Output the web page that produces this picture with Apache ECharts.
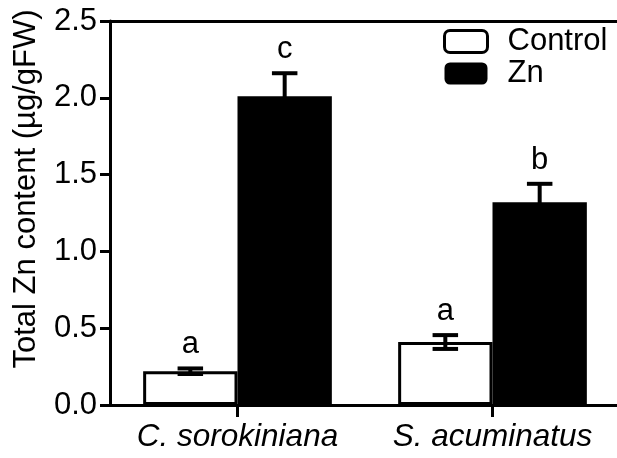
<!DOCTYPE html>
<html>
<head>
<meta charset="utf-8">
<script src="https://cdn.jsdelivr.net/npm/echarts@6/dist/echarts.min.js"></script>
<style>
html,body{margin:0;padding:0;background:#fff;}
#chart{width:617px;height:458px;}
</style>
</head>
<body>
<div id="chart"></div>
<script>
const categories = ['C. sorokiniana', 'S. acuminatus'];
const seriesNames = ['Control', 'Zn'];
const controlMean = [0.22, 0.41];
const controlErr = [0.018, 0.045];
const controlLetters = ['a', 'a'];
const znMean = [2.01, 1.32];
const znErr = [0.15, 0.12];
const znLetters = ['c', 'b'];
const yMin = 0, yMax = 2.5, yStep = 0.5;
const yAxisName = 'Total Zn content (µg/gFW)';

const FONT = 'Liberation Sans, Arial, Helvetica, sans-serif';
const BAR_FRAC = 0.37;

function errRender(side, letters) {
  return function (params, api) {
    const idx = api.value(0);
    const mean = api.value(1);
    const err = api.value(2);
    const band = api.size([1, 0])[0];
    const barW = band * BAR_FRAC;
    const c = api.coord([idx, mean]);
    const x = c[0] + side * barW / 2;
    const yTop = api.coord([idx, mean + err])[1];
    const yBot = api.coord([idx, mean - err])[1];
    const capW = band * 0.1;
    const st = { stroke: '#000', lineWidth: 4 };
    const children = [
      { type: 'line', shape: { x1: x, y1: yBot, x2: x, y2: yTop }, style: st },
      { type: 'line', shape: { x1: x - capW / 2, y1: yTop, x2: x + capW / 2, y2: yTop }, style: st },
      { type: 'line', shape: { x1: x - capW / 2, y1: yBot, x2: x + capW / 2, y2: yBot }, style: st },
      { type: 'text', style: { x: x, y: yTop - 8, text: letters[idx], fill: '#000',
          font: '31px ' + FONT, textAlign: 'center', textVerticalAlign: 'bottom' } }
    ];
    return { type: 'group', children: children };
  };
}

const chart = echarts.init(document.getElementById('chart'), null, { renderer: 'canvas' });
chart.setOption({
  backgroundColor: '#fff',
  animation: false,
  textStyle: { fontFamily: FONT },
  grid: { left: 110, top: 21, width: 510, bottom: 53, containLabel: false, outerBoundsMode: 'none' },
  legend: {
    orient: 'vertical',
    left: 443,
    top: 26,
    padding: 0,
    itemWidth: 43,
    itemHeight: 22,
    itemGap: 1,
    icon: 'roundRect',
    textStyle: { fontSize: 31, color: '#000', fontFamily: FONT, lineHeight: 30, padding: [0, 0, 0, 15] },
    data: [
      { name: seriesNames[0], itemStyle: { color: '#fff', borderColor: '#000', borderWidth: 3 } },
      { name: seriesNames[1], itemStyle: { color: '#000', borderWidth: 0 } }
    ]
  },
  xAxis: [{
    type: 'category',
    data: categories,
    boundaryGap: true,
    axisLine: { show: true, lineStyle: { color: '#000', width: 3 } },
    axisTick: { show: true, interval: 0, alignWithLabel: true, length: 12, lineStyle: { color: '#000', width: 3 } },
    axisLabel: { color: '#000', fontSize: 31.5, fontStyle: 'italic', fontFamily: FONT, margin: 16,
      interval: 0, hideOverlap: false },
    splitLine: { show: false }
  }, {
    type: 'category',
    position: 'top',
    data: categories,
    axisLine: { show: true, lineStyle: { color: '#000', width: 3 } },
    axisTick: { show: false },
    axisLabel: { show: false },
    splitLine: { show: false }
  }],
  yAxis: {
    type: 'value',
    min: yMin,
    max: yMax,
    interval: yStep,
    name: yAxisName,
    nameLocation: 'middle',
    nameGap: 68,
    nameTextStyle: { fontSize: 31, color: '#000', fontFamily: FONT, padding: [0, 0, 0, 48] },
    axisLine: { show: true, lineStyle: { color: '#000', width: 3 } },
    axisTick: { show: true, length: 10, lineStyle: { color: '#000', width: 3 } },
    axisLabel: { color: '#000', fontSize: 31, fontFamily: FONT, margin: 13,
      formatter: v => v.toFixed(1) },
    splitLine: { show: false }
  },
  series: [
    {
      name: seriesNames[0], type: 'bar', barWidth: (BAR_FRAC * 100) + '%', barGap: '0%',
      itemStyle: { color: '#fff', borderColor: '#000', borderWidth: 3 },
      data: controlMean, z: 2
    },
    {
      name: seriesNames[1], type: 'bar', barWidth: (BAR_FRAC * 100) + '%', barGap: '0%',
      itemStyle: { color: '#000', borderColor: '#000', borderWidth: 0 },
      data: znMean, z: 2
    },
    {
      type: 'custom', name: 'ctrlErr', z: 3, silent: true,
      renderItem: errRender(-1, controlLetters),
      encode: { x: 0, y: 1 },
      data: controlMean.map((m, i) => [i, m, controlErr[i]])
    },
    {
      type: 'custom', name: 'znErr', z: 1, silent: true,
      renderItem: errRender(1, znLetters),
      encode: { x: 0, y: 1 },
      data: znMean.map((m, i) => [i, m, znErr[i]])
    }
  ]
});
</script>
</body>
</html>
